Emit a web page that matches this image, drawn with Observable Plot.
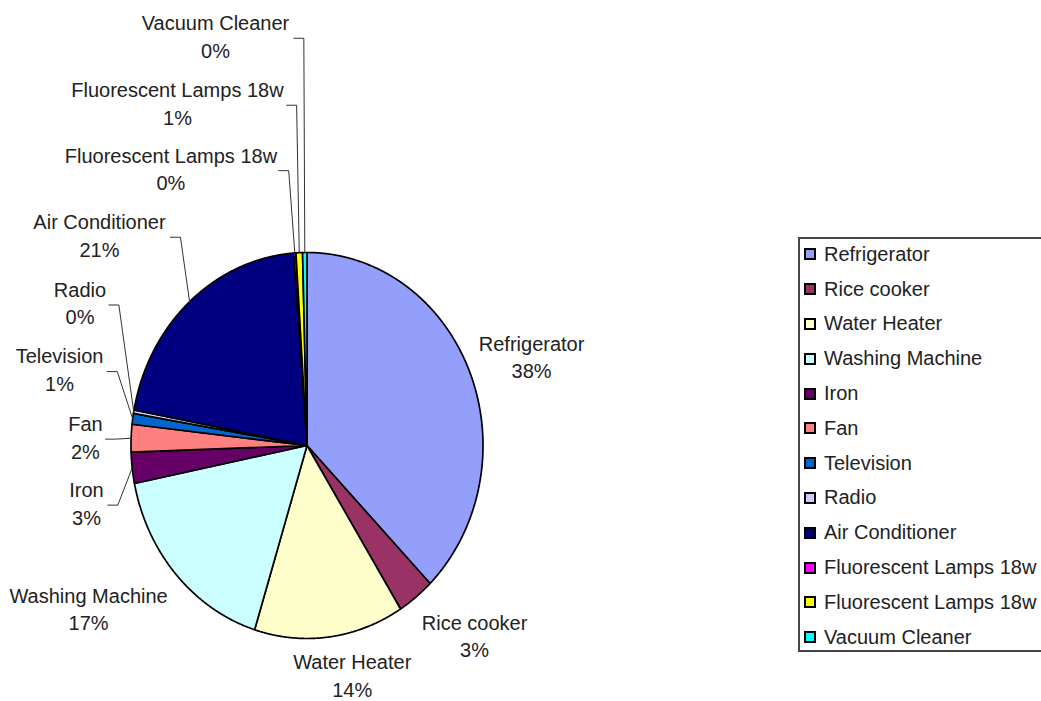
<!DOCTYPE html>
<html>
<head>
<meta charset="utf-8">
<script src="https://cdn.jsdelivr.net/npm/d3@7"></script>
<script src="https://cdn.jsdelivr.net/npm/@observablehq/plot@0.6"></script>
<style>
  html, body { margin: 0; padding: 0; background: #fff; overflow: hidden; }
  #chart { position: relative; width: 1041px; height: 701px; font-family: "Liberation Sans", Arial, sans-serif; }
  .legend { position: absolute; left: 798px; top: 237px; width: 262px; height: 415px;
            border: 2px solid #454545; box-sizing: border-box; background: #fff; }
  .legend .rows { position: relative; top: -2px; }
  .legend .row { height: 34.8px; display: flex; align-items: center; font-size: 20px; color: #222; white-space: nowrap; }
  .legend .sw { width: 8px; height: 8px; border: 2px solid #000; margin: 0 8px 0 4px; flex: none; }
</style>
</head>
<body>
<div id="chart"></div>
<script>
// Share of household electricity use by appliance (%)
const appliances = [
  "Refrigerator", "Rice cooker", "Water Heater", "Washing Machine", "Iron", "Fan",
  "Television", "Radio", "Air Conditioner", "Fluorescent Lamps 18w", "Fluorescent Lamps 18w", "Vacuum Cleaner"
];
const shares = [37.6, 3.4, 13.7, 17.0, 2.6, 2.3, 0.9, 0.3, 20.8, 0.2, 0.6, 0.4];
const colors = [
  "#949ffb", "#993366", "#ffffcc", "#ccffff", "#660066", "#ff8080",
  "#0066cc", "#ccccff", "#000080", "#ff00ff", "#ffff00", "#00ffff"
];

// Label placement, in pie-radius units (centre of the two-line label)
const labelX = [1.276, 0.952, 0.257, -1.241, -1.253, -1.259, -1.406, -1.290, -1.179, -0.773, -0.736, -0.520];
const labelY = [0.456, -0.990, -1.195, -0.850, -0.303, 0.039, 0.389, 0.734, 1.085, 1.430, 1.769, 2.116];
// Where a leader line starts beside its label (null = no leader)
const leaderX = [null, null, null, null, -1.132, -1.145, -1.135, -1.126, -0.776, -0.161, -0.116, -0.075];
const elbow = 0.057;

const arcs = d3.pie().sort(null).value(d => d)(shares);

// Slice outlines: centre -> arc -> centre, angles clockwise from 12 o'clock
const slicePts = [];
arcs.forEach((a, i) => {
  slicePts.push({k: i, x: 0, y: 0, c: colors[i]});
  const n = Math.max(2, Math.ceil((a.endAngle - a.startAngle) / 0.004));
  for (let j = 0; j <= n; j++) {
    const t = a.startAngle + (a.endAngle - a.startAngle) * j / n;
    slicePts.push({k: i, x: Math.sin(t), y: Math.cos(t), c: colors[i]});
  }
  slicePts.push({k: i, x: 0, y: 0, c: colors[i]});
});

// Leader lines from label to the middle of the slice's rim
const leaderPts = [];
arcs.forEach((a, i) => {
  if (leaderX[i] == null) return;
  const m = (a.startAngle + a.endAngle) / 2;
  const ly = labelY[i] - 0.006;
  leaderPts.push({k: i, x: leaderX[i], y: ly});
  leaderPts.push({k: i, x: leaderX[i] + elbow, y: ly});
  leaderPts.push({k: i, x: Math.sin(m), y: Math.cos(m)});
});

const labels = appliances.map((name, i) => ({
  x: labelX[i], y: labelY[i], text: `${name}\n${Math.round(shares[i])}%`
}));

const plot = Plot.plot({
  width: 1041,
  height: 701,
  margin: 0,
  style: {fontFamily: '"Liberation Sans", Arial, sans-serif', background: "#fff"},
  x: {domain: [-1, 1], range: [130.5, 482.5], axis: null},
  y: {domain: [-1, 1], range: [638, 252], axis: null},
  color: {type: "identity"},
  marks: [
    Plot.line(slicePts, {x: "x", y: "y", z: "k", fill: "c", stroke: "#000", strokeWidth: 1.7, strokeLinejoin: "round", curve: "linear"}),
    Plot.line(leaderPts, {x: "x", y: "y", z: "k", stroke: "#333", strokeWidth: 1, curve: "linear"}),
    Plot.text(labels, {x: "x", y: "y", dy: -2, text: "text", fontSize: 20, lineHeight: 1.38, fill: "#222", textAnchor: "middle", lineAnchor: "middle"})
  ]
});

const chart = document.getElementById("chart");
chart.appendChild(plot);

// Legend box
const legend = document.createElement("div");
legend.className = "legend";
const rows = document.createElement("div");
rows.className = "rows";
appliances.forEach((name, i) => {
  const row = document.createElement("div");
  row.className = "row";
  const sw = document.createElement("span");
  sw.className = "sw";
  sw.style.background = colors[i];
  const lab = document.createElement("span");
  lab.textContent = name;
  row.appendChild(sw);
  row.appendChild(lab);
  rows.appendChild(row);
});
legend.appendChild(rows);
chart.appendChild(legend);
</script>
</body>
</html>
